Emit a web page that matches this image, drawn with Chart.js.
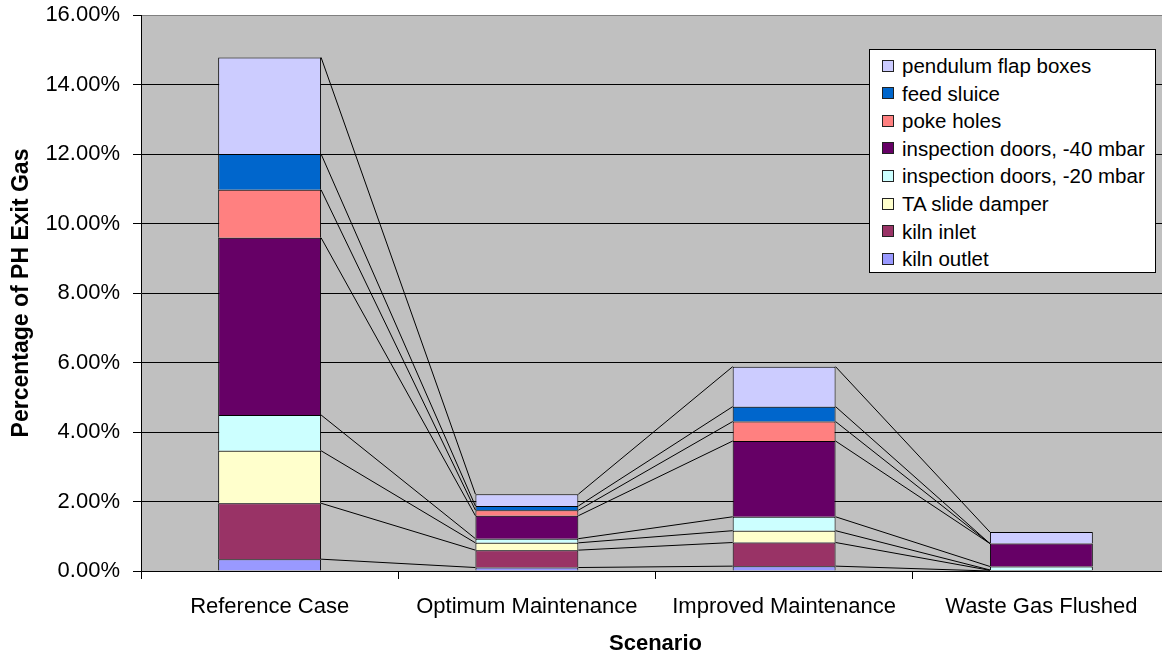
<!DOCTYPE html>
<html>
<head>
<meta charset="utf-8">
<title>Percentage of PH Exit Gas by Scenario</title>
<script src="https://cdn.jsdelivr.net/npm/chart.js@4/dist/chart.umd.min.js"></script>
<style>
  html, body { margin: 0; padding: 0; background: #fff; overflow: hidden; }
  #wrap { position: relative; width: 1162px; height: 657px; overflow: hidden; }
  #chart { position: absolute; left: 0; top: 0; }
  #legend {
    position: absolute; left: 869px; top: 49px; width: 285px; height: 222px;
    background: #fff; border: 1px solid #000;
    font-family: "Liberation Sans", Arial, sans-serif; font-size: 20.5px; color: #000;
  }
  #legend .row { position: absolute; left: 12px; height: 28px; line-height: 28px; white-space: nowrap; }
  #legend .sw {
    display: inline-block; box-sizing: border-box; width: 12px; height: 12px;
    border: 1px solid #222; vertical-align: middle; margin-right: 8px; position: relative; top: -2px;
  }
</style>
</head>
<body>
<div id="wrap">
  <canvas id="chart" width="1180" height="657"></canvas>
  <div id="legend"></div>
</div>
<script>
// Scenarios along the x axis
const categories = ['Reference Case', 'Optimum Maintenance', 'Improved Maintenance', 'Waste Gas Flushed'];

// Leakage sources, in % of preheater exit gas (bottom of the stack first)
const kilnOutlet        = [0.34, 0.10, 0.14, 0.00];
const kilnInlet         = [1.61, 0.50, 0.68, 0.02];
const taSlideDamper     = [1.51, 0.21, 0.34, 0.01];
const inspectionDoors20 = [1.03, 0.12, 0.40, 0.10];
const inspectionDoors40 = [5.10, 0.66, 2.18, 0.66];
const pokeHoles         = [1.38, 0.16, 0.56, 0.00];
const feedSluice        = [1.03, 0.12, 0.43, 0.00];
const pendulumFlapBoxes = [2.78, 0.34, 1.15, 0.33];

const seriesNames = ['kiln outlet', 'kiln inlet', 'TA slide damper', 'inspection doors, -20 mbar',
                     'inspection doors, -40 mbar', 'poke holes', 'feed sluice', 'pendulum flap boxes'];
const seriesValues = [kilnOutlet, kilnInlet, taSlideDamper, inspectionDoors20,
                      inspectionDoors40, pokeHoles, feedSluice, pendulumFlapBoxes];

// Y axis range and step (percent)
const yMin = 0, yMax = 16, yStep = 2;

// Fill colours, same order as the series
const seriesColors = ['#9999FF', '#993366', '#FFFFCC', '#CCFFFF', '#660066', '#FF8080', '#0066CC', '#CCCCFF'];

const FONT = '"Liberation Sans", Arial, sans-serif';

// Grey plot background
const plotBackground = {
  id: 'plotBackground',
  beforeDraw(chart) {
    const { ctx, chartArea: a } = chart;
    ctx.save();
    ctx.fillStyle = '#C0C0C0';
    ctx.fillRect(a.left, a.top, a.right - a.left, a.bottom - a.top);
    ctx.restore();
  }
};

// Series lines joining the top of each segment between neighbouring columns
const seriesLines = {
  id: 'seriesLines',
  beforeDatasetsDraw(chart) {
    const { ctx } = chart;
    ctx.save();
    ctx.strokeStyle = '#000';
    ctx.lineWidth = 1;
    chart.data.datasets.forEach((ds, d) => {
      const meta = chart.getDatasetMeta(d);
      for (let j = 0; j < meta.data.length - 1; j++) {
        const a = meta.data[j].getProps(['x', 'y', 'width'], true);
        const b = meta.data[j + 1].getProps(['x', 'y', 'width'], true);
        ctx.beginPath();
        ctx.moveTo(a.x + a.width / 2, a.y);
        ctx.lineTo(b.x - b.width / 2, b.y);
        ctx.stroke();
      }
    });
    ctx.restore();
  }
};

const chart = new Chart(document.getElementById('chart').getContext('2d'), {
  type: 'bar',
  data: {
    labels: categories,
    datasets: seriesValues.map((vals, i) => ({
      label: seriesNames[i],
      data: vals,
      backgroundColor: seriesColors[i],
      borderColor: '#000',
      borderWidth: 1,
      barPercentage: 0.4,
      categoryPercentage: 1
    }))
  },
  options: {
    responsive: false,
    animation: false,
    layout: { padding: { top: 15, right: 10, left: 0, bottom: 0 } },
    plugins: { legend: { display: false }, tooltip: { enabled: false } },
    scales: {
      x: {
        stacked: true,
        grid: { drawOnChartArea: false, offset: true, tickLength: 8, color: '#000' },
        border: { color: '#000' },
        ticks: { color: '#000', font: { family: FONT, size: 22 }, padding: 15, maxRotation: 0, autoSkip: false },
        title: { display: true, text: 'Scenario', color: '#000', font: { family: FONT, size: 22, weight: 'bold' }, padding: { top: 0, bottom: 0 } },
        afterFit(scale) { scale.height = 86; scale.paddingLeft = 0; scale.paddingRight = 0; }
      },
      y: {
        stacked: true,
        min: yMin, max: yMax,
        ticks: { stepSize: yStep, color: '#000', font: { family: FONT, size: 22 }, padding: 13,
                 callback: v => v.toFixed(2) + '%' },
        grid: { color: c => (c.tick && c.tick.value === yMax ? '#808080' : '#000'), tickColor: '#000', tickLength: 8 },
        border: { color: '#000' },
        title: { display: true, text: 'Percentage of PH Exit Gas', color: '#000',
                 font: { family: FONT, size: 23, weight: 'bold' }, padding: { top: 8, bottom: 0 } },
        afterFit(scale) { scale.width = 141; scale.paddingTop = 0; scale.paddingBottom = 0; }
      }
    }
  },
  plugins: [plotBackground, seriesLines]
});

// Legend box, listed top of stack first
const legend = document.getElementById('legend');
for (let k = 0; k < seriesNames.length; k++) {
  const i = seriesNames.length - 1 - k;
  const row = document.createElement('div');
  row.className = 'row';
  row.style.top = (2 + k * 27.6) + 'px';
  const sw = document.createElement('span');
  sw.className = 'sw';
  sw.style.background = seriesColors[i];
  row.appendChild(sw);
  row.appendChild(document.createTextNode(seriesNames[i]));
  legend.appendChild(row);
}
</script>
</body>
</html>
